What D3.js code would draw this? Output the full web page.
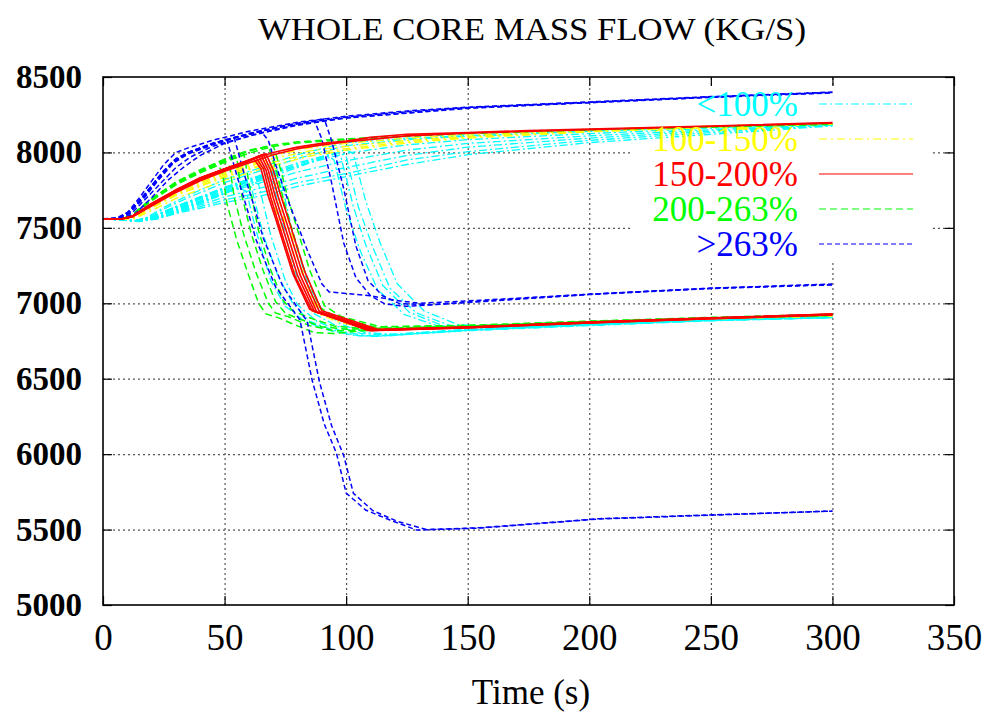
<!DOCTYPE html>
<html>
<head>
<meta charset="utf-8">
<script src="https://cdn.jsdelivr.net/npm/d3@7"></script>
<style>
  html, body { margin: 0; padding: 0; background: #fff; }
  svg { display: block; }
</style>
</head>
<body>
<svg id="chart" width="991" height="715"></svg>
<script>
// ---------------- DATA ----------------
const chartTitle = "WHOLE CORE MASS FLOW (KG/S)";
const xLabel = "Time (s)";
const xTicks = [0, 50, 100, 150, 200, 250, 300, 350];
const yTicks = [5000, 5500, 6000, 6500, 7000, 7500, 8000, 8500];
const groupNames = ["<100%", "100-150%", "150-200%", "200-263%", ">263%"];
const groupColors = ["#00ffff", "#ffff00", "#ff0000", "#00ff00", "#0000ff"];

// <100% (cyan)
const cyanCurves = [
  [[0,7560],[8,7555],[13,7545],[18,7565],[25,7625],[35,7700],[50,7800],[65,7880],[80,7960],[100,8045],[125,8085],[150,8108],[200,8140],[250,8166],[300,8186]],
  [[0,7560],[8,7555],[13,7546],[18,7560],[25,7610],[35,7675],[50,7765],[65,7835],[80,7910],[100,7995],[125,8050],[150,8085],[200,8125],[250,8160],[300,8184]],
  [[0,7560],[9,7552],[14,7544],[20,7560],[28,7600],[38,7655],[50,7730],[65,7800],[80,7870],[100,7945],[125,8015],[150,8060],[200,8110],[250,8150],[300,8182]],
  [[0,7560],[9,7552],[14,7543],[20,7556],[28,7592],[38,7640],[50,7705],[65,7765],[80,7830],[100,7900],[125,7980],[150,8035],[200,8095],[250,8142],[300,8180]],
  [[0,7560],[9,7550],[15,7542],[22,7560],[30,7600],[40,7640],[50,7685],[65,7735],[80,7800],[100,7860],[125,7950],[150,8005],[200,8080],[250,8132],[300,8178]],
  [[0,7560],[10,7550],[15,7545],[22,7558],[30,7595],[40,7630],[50,7668],[65,7712],[80,7775],[100,7840],[125,7920],[150,7985],[200,8065],[250,8120],[300,8176]],
  [[0,7560],[8,7556],[13,7548],[18,7570],[25,7635],[35,7715],[50,7820],[65,7900],[80,7985],[100,8065],[125,8092],[150,8112],[200,8142],[250,8167],[300,8187]],
  [[0,7560],[8,7555],[13,7546],[20,7570],[30,7640],[40,7700],[50,7760],[57,7800],[61,7770],[66,7450],[72,7180],[78,7000],[85,6880],[95,6820],[105,6785],[112,6780],[130,6800],[150,6820],[200,6855],[250,6885],[300,6905]],
  [[0,7560],[9,7552],[14,7545],[20,7562],[30,7620],[40,7680],[50,7745],[60,7815],[64,7790],[69,7450],[75,7150],[80,6990],[88,6880],[98,6815],[108,6785],[120,6790],[150,6822],[200,6858],[250,6888],[300,6908]],
  [[0,7560],[8,7555],[13,7547],[20,7568],[30,7632],[40,7695],[50,7765],[60,7820],[67,7855],[70,7800],[75,7450],[81,7100],[87,6930],[96,6850],[106,6800],[116,6790],[150,6825],[200,6860],[250,6890],[300,6910]],
  [[0,7560],[9,7553],[14,7546],[20,7560],[30,7615],[40,7670],[50,7730],[60,7790],[70,7860],[73,7830],[78,7460],[84,7140],[90,6960],[98,6860],[108,6805],[120,6795],[150,6828],[200,6862],[250,6892],[300,6912]],
  [[0,7560],[10,7550],[15,7545],[22,7565],[30,7605],[40,7660],[50,7725],[56,7770],[59,7740],[63,7480],[69,7150],[75,6980],[83,6880],[93,6820],[104,6786],[115,6782],[150,6818],[200,6852],[250,6884],[300,6904]],
  [[0,7560],[8,7556],[13,7546],[20,7572],[30,7640],[40,7705],[50,7770],[65,7850],[80,7930],[95,7995],[98,7960],[103,7640],[108,7390],[115,7120],[126,6940],[140,6850],[160,6838],[200,6858],[250,6888],[300,6906]],
  [[0,7560],[9,7552],[14,7545],[20,7565],[30,7625],[40,7690],[50,7750],[65,7830],[80,7910],[97,8000],[100,7975],[105,7640],[111,7370],[118,7100],[129,6935],[143,6852],[160,6842],[200,6860],[250,6890],[300,6908]],
  [[0,7560],[8,7555],[13,7546],[20,7568],[30,7632],[40,7695],[50,7760],[65,7840],[80,7920],[92,7980],[95,7950],[100,7620],[106,7340],[113,7090],[124,6925],[138,6848],[160,6838],[200,6857],[250,6887],[300,6905]],
  [[0,7560],[9,7552],[14,7544],[20,7562],[30,7618],[40,7675],[50,7740],[65,7815],[80,7900],[100,8020],[103,7990],[108,7680],[114,7400],[121,7130],[132,6950],[146,6858],[165,6845],[200,6862],[250,6890],[300,6908]]
];

// 100-150% (yellow)
const yellowCurves = [
  [[0,7560],[8,7560],[12,7570],[20,7650],[30,7740],[40,7800],[50,7860],[60,7910],[70,7960],[85,8010],[100,8040],[125,8080],[150,8105],[200,8145],[250,8170],[300,8190]],
  [[0,7560],[8,7558],[13,7565],[20,7630],[30,7715],[40,7775],[50,7835],[60,7885],[70,7935],[85,7990],[100,8025],[125,8070],[150,8100],[200,8140],[250,8168],[300,8188]],
  [[0,7560],[8,7560],[12,7575],[20,7660],[30,7755],[40,7820],[50,7880],[60,7930],[70,7980],[85,8030],[100,8060],[125,8095],[150,8115],[200,8150],[250,8175],[300,8192]],
  [[0,7560],[8,7558],[13,7562],[20,7615],[30,7695],[40,7755],[50,7815],[60,7865],[70,7915],[85,7975],[100,8015],[125,8062],[150,8095],[200,8136],[250,8166],[300,8187]],
  [[0,7560],[8,7560],[12,7572],[20,7655],[30,7745],[40,7808],[50,7868],[60,7920],[66,7950],[69,7905],[72,7710],[76,7450],[82,7150],[88,6960],[95,6895],[105,6855],[113,6832],[150,6845],[200,6875],[250,6900],[300,6918]],
  [[0,7560],[8,7558],[13,7566],[20,7635],[30,7720],[40,7780],[50,7840],[60,7892],[68,7930],[71,7890],[74,7690],[80,7310],[86,7030],[92,6925],[103,6865],[115,6830],[150,6842],[200,6872],[250,6898],[300,6916]],
  [[0,7560],[8,7559],[13,7568],[20,7640],[30,7728],[40,7790],[50,7850],[60,7900],[64,7930],[67,7880],[70,7690],[74,7440],[80,7140],[86,6950],[96,6880],[110,6828],[150,6840],[200,6870],[250,6896],[300,6915]]
];

// 150-200% (red)
const redCurves = [
  [[0,7560],[8,7560],[12,7575],[20,7660],[30,7750],[40,7830],[50,7890],[60,7945],[70,8000],[80,8035],[90,8060],[100,8075],[110,8100],[125,8120],[150,8132],[175,8145],[200,8155],[250,8175],[300,8198]],
  [[0,7560],[8,7560],[12,7572],[20,7645],[30,7735],[40,7812],[50,7875],[60,7930],[70,7985],[80,8025],[90,8050],[100,8070],[125,8110],[150,8128],[200,8150],[250,8172],[300,8194]],
  [[0,7560],[8,7560],[12,7574],[20,7652],[30,7742],[40,7822],[50,7882],[60,7940],[63,7965],[66,7890],[69,7700],[72,7540],[79,7180],[86,6950],[110,6818],[150,6838],[200,6870],[250,6898],[300,6924]],
  [[0,7560],[8,7560],[12,7576],[20,7658],[30,7748],[40,7828],[50,7888],[60,7946],[64,7975],[67,7885],[70,7700],[73,7545],[80,7185],[87,6945],[111,6820],[150,6840],[200,6872],[250,6900],[300,6926]],
  [[0,7560],[8,7560],[12,7575],[20,7655],[30,7746],[40,7826],[50,7886],[60,7944],[65,7982],[68,7880],[71,7700],[74,7550],[81,7190],[88,6940],[112,6822],[150,6841],[200,6873],[250,6901],[300,6927]],
  [[0,7560],[8,7560],[12,7577],[20,7660],[30,7750],[40,7830],[50,7890],[60,7948],[66,7988],[69,7880],[72,7710],[75,7560],[82,7200],[89,6945],[112,6825],[150,6842],[200,6874],[250,6902],[300,6928]],
  [[0,7560],[8,7560],[12,7573],[20,7650],[30,7740],[40,7820],[50,7880],[62,7958],[65,7890],[68,7710],[71,7560],[78,7200],[85,6960],[109,6820],[150,6837],[200,6869],[250,6897],[300,6923]],
  [[0,7560],[8,7560],[12,7578],[20,7662],[30,7752],[40,7832],[50,7892],[60,7950],[67,7992],[70,7885],[73,7720],[76,7570],[83,7210],[90,6950],[113,6828],[150,6843],[200,6875],[250,6903],[300,6929]]
];

// 200-263% (green)
const greenCurves = [
  [[0,7560],[8,7560],[12,7585],[20,7690],[30,7800],[40,7880],[50,7950],[60,8010],[70,8050],[80,8070],[100,8090],[125,8110],[150,8128],[200,8152],[250,8170],[300,8188]],
  [[0,7560],[8,7560],[12,7580],[20,7680],[30,7785],[40,7865],[50,7935],[60,7995],[70,8040],[80,8062],[100,8085],[125,8106],[150,8125],[200,8150],[250,8168],[300,8186]],
  [[0,7560],[8,7560],[12,7584],[20,7688],[30,7795],[40,7868],[47,7912],[49,7880],[51,7660],[55,7420],[60,7180],[64,7000],[67,6930],[72,6905],[80,6850],[87,6805],[95,6800],[105,6815],[120,6830],[150,6845],[200,6875],[250,6900],[300,6920]],
  [[0,7560],[8,7560],[12,7582],[20,7684],[30,7790],[40,7872],[50,7935],[52,7915],[54,7700],[58,7450],[63,7200],[68,7000],[71,6935],[76,6912],[85,6852],[95,6818],[105,6822],[150,6846],[200,6876],[250,6900],[300,6920]],
  [[0,7560],[8,7560],[12,7586],[20,7692],[30,7798],[40,7876],[50,7945],[55,7968],[57,7720],[61,7460],[66,7210],[71,7010],[75,6935],[80,6900],[90,6845],[100,6828],[150,6848],[200,6878],[250,6902],[300,6922]],
  [[0,7560],[8,7560],[12,7583],[20,7686],[30,7792],[40,7870],[50,7940],[58,7985],[60,7800],[64,7480],[69,7220],[74,7020],[78,6950],[84,6910],[95,6850],[108,6830],[150,6848],[200,6877],[250,6901],[300,6921]],
  [[0,7560],[8,7560],[12,7585],[20,7690],[30,7800],[40,7880],[50,7950],[60,8010],[68,8040],[71,7900],[74,7700],[77,7530],[83,7210],[89,6975],[96,6905],[112,6842],[150,6852],[200,6880],[250,6905],[300,6926]],
  [[0,7560],[8,7560],[12,7587],[20,7694],[30,7805],[40,7885],[50,7955],[60,8015],[70,8045],[73,7890],[76,7700],[79,7540],[85,7220],[91,6985],[98,6912],[114,6845],[150,6854],[200,6882],[250,6906],[300,6927]]
];

// >263% (blue)
const blueCurves = [
  [[0,7560],[5,7562],[10,7600],[15,7700],[20,7810],[25,7920],[30,8000],[35,8030],[45,8080],[60,8140],[80,8200],[100,8240],[125,8275],[150,8300],[200,8335],[250,8370],[300,8400]],
  [[0,7560],[6,7565],[10,7590],[15,7680],[20,7780],[25,7880],[30,7960],[35,8000],[45,8060],[60,8125],[80,8190],[100,8235],[125,8270],[150,8298],[200,8332],[250,8368],[300,8398]],
  [[0,7560],[7,7562],[12,7600],[18,7700],[24,7800],[30,7900],[36,7970],[45,8040],[60,8110],[80,8180],[100,8230],[150,8295],[200,8330],[250,8366],[300,8396]],
  [[0,7560],[7,7560],[13,7590],[20,7700],[27,7820],[33,7900],[40,7980],[50,8060],[65,8130],[80,8185],[100,8228],[150,8292],[200,8330],[250,8365],[300,8395]],
  [[0,7560],[6,7562],[11,7600],[17,7700],[23,7820],[29,7930],[35,7990],[45,8050],[55,8100],[65,8140],[68,8080],[71,7920],[76,7685],[84,7353],[90,7130],[93,7075],[100,7065],[110,7050],[120,7020],[130,7000],[155,7020],[200,7060],[250,7100],[300,7128]],
  [[0,7560],[6,7563],[11,7610],[17,7720],[23,7840],[29,7945],[35,8000],[45,8060],[60,8125],[75,8180],[87,8208],[90,8090],[94,7800],[99,7400],[104,7170],[110,7050],[116,6995],[125,6980],[150,7005],[200,7058],[250,7098],[300,7122]],
  [[0,7560],[6,7562],[11,7605],[17,7712],[23,7832],[29,7938],[35,7996],[45,8056],[60,8120],[75,8178],[91,8222],[94,8080],[99,7760],[104,7380],[109,7150],[115,7050],[122,6998],[135,6990],[150,7008],[200,7060],[250,7100],[300,7124]],
  [[0,7560],[6,7562],[11,7605],[17,7710],[23,7830],[29,7935],[35,7995],[45,8055],[51,8082],[55,7850],[59,7640],[63,7420],[71,7108],[81,6890],[86,6491],[91,6200],[96,6007],[100,5742],[108,5630],[118,5563],[129,5497],[155,5510],[204,5570],[251,5596],[300,5623]],
  [[0,7560],[6,7563],[11,7610],[17,7715],[23,7835],[29,7940],[35,8000],[45,8060],[54,8095],[58,7860],[62,7650],[66,7430],[74,7110],[84,6880],[89,6480],[94,6190],[99,5990],[103,5740],[111,5625],[121,5555],[133,5500],[155,5512],[204,5572],[251,5598],[300,5622]]
];

// ---------------- DRAW ----------------
const SERIF = "'Liberation Serif', 'Times New Roman', Times, serif";
const svg = d3.select("#chart");
const W = 991, H = 715;
const plot = { left: 103, right: 954, top: 77, bottom: 605 };

const x = d3.scaleLinear().domain([0, 350]).range([plot.left, plot.right]);
const y = d3.scaleLinear().domain([5000, 8500]).range([plot.bottom, plot.top]);

svg.append("rect").attr("width", W).attr("height", H).attr("fill", "#fff");

// grid
const gridX = svg.append("g").attr("transform", `translate(0,${plot.bottom})`)
  .call(d3.axisBottom(x).tickValues(xTicks.slice(1, -1)).tickSize(-(plot.bottom - plot.top)).tickFormat(""));
gridX.select(".domain").remove();
gridX.selectAll("line").attr("stroke", "#333").attr("stroke-width", 1).attr("stroke-dasharray", "2,3");

const gridY = svg.append("g").attr("transform", `translate(${plot.left},0)`)
  .call(d3.axisLeft(y).tickValues(yTicks.slice(1, -1)).tickSize(-(plot.right - plot.left)).tickFormat(""));
gridY.select(".domain").remove();
gridY.selectAll("line").attr("stroke", "#555").attr("stroke-width", 1.2).attr("stroke-dasharray", "2,3");

// white key box (covers grid)
svg.append("rect").attr("x", 630).attr("y", 87).attr("width", 302).attr("height", 175).attr("fill", "#fff");

const styles = [
  { curves: cyanCurves,   color: groupColors[0], dash: "8,3,2,3", width: 1.3 },
  { curves: yellowCurves, color: groupColors[1], dash: "8,4,2,4", width: 1.3 },
  { curves: greenCurves,  color: groupColors[3], dash: "7,4",     width: 1.5 },
  { curves: blueCurves,   color: groupColors[4], dash: "5,3",     width: 1.5 },
  { curves: redCurves,    color: groupColors[2], dash: null,      width: 1.6 }
];

const line = d3.line().x(d => x(d[0])).y(d => y(d[1]));

const curvesG = svg.append("g");
styles.forEach(s => {
  curvesG.append("g").selectAll("path").data(s.curves).join("path")
    .attr("d", line)
    .attr("fill", "none")
    .attr("stroke", s.color)
    .attr("stroke-width", s.width)
    .attr("stroke-dasharray", s.dash)
    .attr("stroke-linejoin", "round");
});

// axes with inward ticks
const tickLen = 9;
const axL = svg.append("g").attr("transform", `translate(${plot.left},0)`)
  .call(d3.axisLeft(y).tickValues(yTicks).tickSize(-tickLen).tickPadding(21).tickFormat(d3.format("d")));
const axR = svg.append("g").attr("transform", `translate(${plot.right},0)`)
  .call(d3.axisRight(y).tickValues(yTicks).tickSize(-tickLen).tickFormat(""));
const axB = svg.append("g").attr("transform", `translate(0,${plot.bottom})`)
  .call(d3.axisBottom(x).tickValues(xTicks).tickSize(-tickLen).tickPadding(19).tickFormat(d3.format("d")));
const axT = svg.append("g").attr("transform", `translate(0,${plot.top})`)
  .call(d3.axisTop(x).tickValues(xTicks).tickSize(-tickLen).tickFormat(""));

[axL, axR, axB, axT].forEach(a => {
  a.attr("font-family", null).attr("font-size", null);
  a.select(".domain").remove();
  a.selectAll("line").attr("stroke", "#000").attr("stroke-width", 1.2);
});
axL.selectAll("text").style("font-family", SERIF).style("font-size", "33px")
  .style("font-weight", "bold").attr("fill", "#000");
axB.selectAll("text").style("font-family", SERIF).style("font-size", "37px")
  .attr("fill", "#000");

// border
svg.append("rect").attr("x", plot.left).attr("y", plot.top)
  .attr("width", plot.right - plot.left).attr("height", plot.bottom - plot.top)
  .attr("fill", "none").attr("stroke", "#000").attr("stroke-width", 1.6);

// title and axis label
svg.append("text").attr("x", 532).attr("y", 40).attr("text-anchor", "middle")
  .style("font-family", SERIF).style("font-size", "31px")
  .attr("textLength", 548).attr("lengthAdjust", "spacingAndGlyphs")
  .text(chartTitle);
svg.append("text").attr("x", 531).attr("y", 704).attr("text-anchor", "middle")
  .style("font-family", SERIF).style("font-size", "35px").text(xLabel);

// legend
const legendDash = ["8,3,2,3", "8,4,2,4", null, "7,4", "5,3"];
const legendY = [104, 139, 174, 209, 244];
const leg = svg.append("g");
groupNames.forEach((name, i) => {
  leg.append("text").attr("x", 798).attr("y", legendY[i]).attr("dy", "0.35em")
    .attr("text-anchor", "end").style("font-family", SERIF).style("font-size", "35px")
    .attr("fill", groupColors[i]).text(name);
  leg.append("line").attr("x1", 819).attr("x2", 913).attr("y1", legendY[i]).attr("y2", legendY[i])
    .attr("stroke", groupColors[i]).attr("stroke-width", 1.2)
    .attr("stroke-dasharray", legendDash[i]);
});
</script>
</body>
</html>
